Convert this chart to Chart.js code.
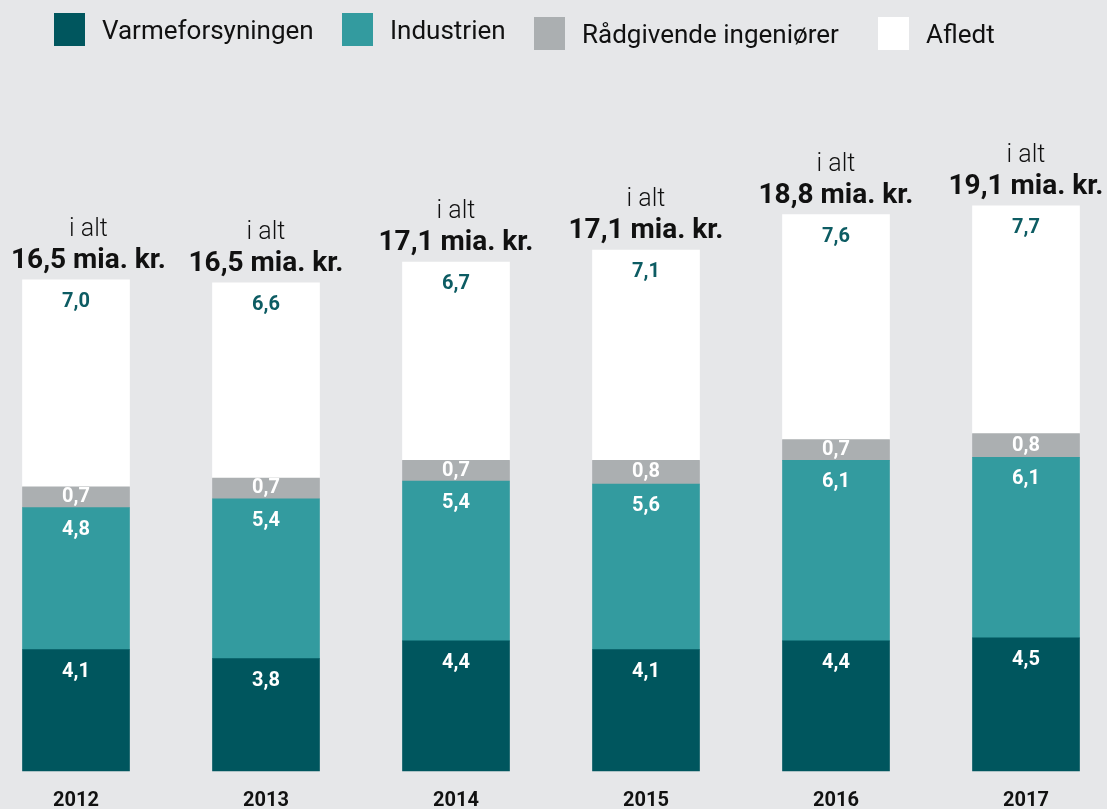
<!DOCTYPE html>
<html lang="da">
<head>
<meta charset="utf-8">
<title>Omsætning i alt</title>
<script src="https://cdn.jsdelivr.net/npm/chart.js@4"></script>
<style>
  html, body { margin: 0; padding: 0; background: #e6e7e9; overflow: hidden; }
  #wrap { position: relative; width: 1107px; height: 831px; }
  #legend { position: absolute; left: 0; top: 0; width: 1107px; height: 60px;
            font-family: Roboto, sans-serif; font-size: 26px; color: #111; }
  .li { position: absolute; display: flex; align-items: center; white-space: nowrap; }
  .sw { width: 31px; height: 33px; margin-right: 17px; flex: none; }
  canvas { position: absolute; left: 0; top: 0; }
</style>
</head>
<body>
<div id="wrap">
  <canvas id="chart" width="1107" height="831"></canvas>
  <div id="legend"></div>
</div>
<script>
// data (mia. kr.)
const years = ['2012', '2013', '2014', '2015', '2016', '2017'];
const varmeforsyningen = [4.1, 3.8, 4.4, 4.1, 4.4, 4.5];
const industrien = [4.8, 5.4, 5.4, 5.6, 6.1, 6.1];
const raadgivende = [0.7, 0.7, 0.7, 0.8, 0.7, 0.8];
const afledt = [7.0, 6.6, 6.7, 7.1, 7.6, 7.7];
const totals = [16.5, 16.5, 17.1, 17.1, 18.8, 19.1];
const seriesNames = ['Varmeforsyningen', 'Industrien', 'Rådgivende ingeniører', 'Afledt'];

const colors = ['#00565e', '#339b9f', '#abafb1', '#ffffff'];
const labelColors = ['#ffffff', '#ffffff', '#ffffff', '#0d5c63'];

const fmt = v => v.toFixed(1).replace('.', ',');

// html legend, placed like the original
const legendPos = [{ left: 54, top: 13 }, { left: 342, top: 13 }, { left: 534, top: 17 }, { left: 878, top: 17 }];
const legend = document.getElementById('legend');
seriesNames.forEach((name, i) => {
    const item = document.createElement('div');
    item.className = 'li';
    item.style.left = legendPos[i].left + 'px';
    item.style.top = legendPos[i].top + 'px';
    item.innerHTML = `<span class="sw" style="background:${colors[i]}"></span><span>${name}</span>`;
    legend.appendChild(item);
});

// values inside the segments + totals above the bars
const barLabels = {
    id: 'barLabels',
    afterDatasetsDraw(chart) {
        const ctx = chart.ctx;
        ctx.save();
        ctx.textAlign = 'center';
        ctx.textBaseline = 'middle';
        ctx.font = 'bold 20px Roboto';
        chart.data.datasets.forEach((ds, i) => {
            const meta = chart.getDatasetMeta(i);
            meta.data.forEach((bar, j) => {
                const top = Math.min(bar.y, bar.base);
                const y = i === 2 ? (bar.y + bar.base) / 2 : top + 22;
                ctx.fillStyle = labelColors[i];
                ctx.fillText(fmt(ds.data[j]), bar.x, y);
            });
        });

        const last = chart.getDatasetMeta(chart.data.datasets.length - 1);
        ctx.textBaseline = 'alphabetic';
        ctx.fillStyle = '#111';
        last.data.forEach((bar, j) => {
            const top = Math.min(bar.y, bar.base);
            const txt = fmt(totals[j]) + ' mia. kr.';
            ctx.font = 'bold 28px Roboto';
            const w = ctx.measureText(txt).width;
            // keep the total inside the picture at the left edge
            const x = Math.max(bar.x, 11 + w / 2);
            ctx.fillText(txt, x, top - 12);
            ctx.font = '300 25px Roboto';
            ctx.fillText('i alt', x, top - 44);
        });
        ctx.restore();
    }
};

Chart.defaults.font.family = 'Roboto';

new Chart(document.getElementById('chart'), {
    type: 'bar',
    data: {
        labels: years,
        datasets: [varmeforsyningen, industrien, raadgivende, afledt].map((d, i) => ({
            label: seriesNames[i],
            data: d,
            backgroundColor: colors[i],
            borderWidth: 0,
            barThickness: 107,
            clip: false
        }))
    },
    options: {
        responsive: false,
        animation: false,
        layout: { padding: { top: 120, left: 76, right: 81, bottom: 0 } },
        plugins: { legend: { display: false }, tooltip: { enabled: false } },
        scales: {
            x: {
                stacked: true,
                offset: false,
                grid: { display: false, drawTicks: false },
                border: { display: false },
                ticks: { color: '#111', font: { size: 20, weight: 'bold' }, padding: 18, maxRotation: 0, autoSkip: false }
            },
            y: {
                stacked: true,
                display: false,
                min: 0,
                max: 22
            }
        }
    },
    plugins: [barLabels]
});
</script>
</body>
</html>
